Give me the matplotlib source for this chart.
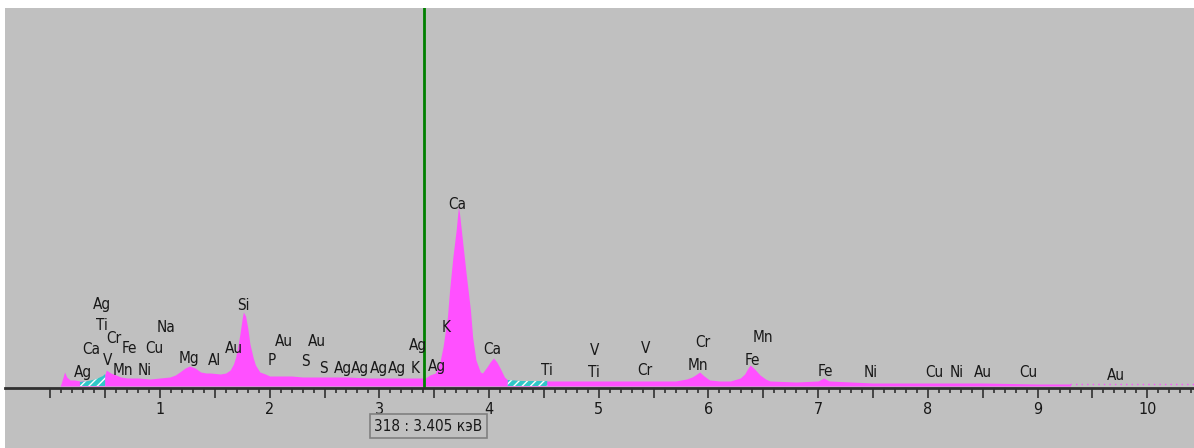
import numpy as np
import matplotlib
matplotlib.use("Agg")
import matplotlib.pyplot as plt

plt.rcParams['font.family'] = ['Liberation Sans Narrow', 'DejaVu Sans']
plt.rcParams['font.stretch'] = 'condensed'

# spectrum (keV, counts)
energy = [0.09, 0.10, 0.13, 0.15, 0.18, 0.22, 0.27, 0.35, 0.42, 0.48, 0.50, 0.51,
          0.55, 0.60, 0.64, 0.70, 0.80, 0.91, 1.00, 1.09, 1.14, 1.18, 1.23, 1.27,
          1.32, 1.37, 1.42, 1.46, 1.55, 1.60, 1.64, 1.67, 1.69, 1.71, 1.73, 1.75,
          1.76, 1.78, 1.80, 1.82, 1.85, 1.87, 1.91, 1.96, 2.00, 2.10, 2.20, 2.30,
          2.50, 2.70, 2.90, 3.10, 3.30, 3.42, 3.46, 3.51, 3.55, 3.58, 3.62, 3.64,
          3.67, 3.70, 3.72, 3.73, 3.76, 3.79, 3.83, 3.85, 3.88, 3.92, 3.94, 3.98,
          4.01, 4.04, 4.07, 4.10, 4.14, 4.17, 4.30, 4.45, 4.53, 4.60, 4.80, 5.00,
          5.20, 5.50, 5.70, 5.80, 5.85, 5.88, 5.92, 5.96, 6.01, 6.10, 6.20, 6.29,
          6.33, 6.35, 6.38, 6.40, 6.42, 6.47, 6.52, 6.56, 6.80, 7.00, 7.05, 7.10,
          7.30, 7.50, 8.00, 8.50, 9.00, 9.30]
counts = [0, 15, 70, 45, 30, 30, 25, 25, 35, 50, 60, 80,
          65, 55, 45, 40, 40, 35, 40, 45, 55, 70, 90, 100,
          90, 70, 65, 65, 60, 65, 80, 110, 145, 200, 265, 340,
          370, 350, 290, 210, 140, 105, 70, 60, 50, 50, 50, 45,
          45, 45, 40, 40, 40, 40, 55, 65, 115, 195, 345, 480,
          645, 780, 895, 865, 715, 565, 380, 245, 130, 70, 65, 95,
          120, 140, 120, 90, 45, 30, 25, 25, 25, 25, 25, 25,
          25, 25, 25, 35, 45, 55, 70, 50, 30, 25, 25, 40,
          60, 80, 105, 95, 85, 55, 35, 25, 20, 25, 40, 25,
          20, 15, 15, 15, 10, 10]

# hatched regions
roi1_energy = [0.27, 0.35, 0.42, 0.48, 0.50]
roi1_counts = [20, 25, 35, 50, 60]
roi2_energy = [4.17, 4.30, 4.45, 4.53]
roi2_counts = [30, 25, 25, 25]

label_text = ['Ag', 'Ti', 'Cr', 'Fe', 'Ca', 'Cu', 'Na', 'V', 'Mn', 'Ni', 'Ag',
              'Mg', 'Al', 'Au', 'Si', 'P', 'Au', 'S', 'Au', 'S', 'Ag', 'Ag',
              'Ag', 'Ag', 'K', 'Ag', 'Ag', 'K', 'Ca', 'Ca', 'Ti', 'V', 'Ti',
              'V', 'Cr', 'Cr', 'Mn', 'Mn', 'Fe', 'Fe', 'Ni', 'Cu', 'Ni', 'Au',
              'Cu', 'Au']
label_kev = [0.471, 0.471, 0.581, 0.717, 0.371, 0.945, 1.055, 0.526, 0.663, 0.863, 0.298,
             1.264, 1.501, 1.675, 1.757, 2.021, 2.130, 2.322, 2.431, 2.486, 2.668, 2.823,
             2.996, 3.160, 3.324, 3.352, 3.525, 3.607, 3.707, 4.026, 4.528, 4.966, 4.956,
             5.431, 5.422, 5.950, 5.904, 6.497, 6.404, 7.062, 7.482, 8.056, 8.266, 8.503,
             8.913, 9.715]
label_cnt = [405, 300, 240, 190, 185, 190, 295, 130, 80, 80, 70,
             140, 130, 190, 405, 130, 225, 125, 225, 90, 90, 90,
             90, 90, 90, 205, 100, 295, 910, 185, 80, 180, 70,
             190, 80, 220, 105, 245, 130, 75, 70, 70, 70, 70,
             70, 55]

cursor_kev = 3.405
cursor_chan = 318

fig = plt.figure(figsize=(11.94, 4.48), dpi=100)
ax = fig.add_axes([5 / 1194, 0, 1189 / 1194, 440 / 448])
ax.set_facecolor('#C0C0C0')
ax.set_xlim(-0.413, 10.426)
ax.set_ylim(-310, 1890)

magenta = '#FF50FF'
ax.fill_between(energy, 0, counts, color=magenta, linewidth=0)
ax.plot([9.3, 10.43], [10, 10], color=magenta, lw=1, ls=(0, (1, 3)))
for e, c in [(roi1_energy, roi1_counts), (roi2_energy, roi2_counts)]:
    ax.fill_between(e, 0, c, facecolor='#30C8C8', edgecolor='white',
                    hatch='////', linewidth=0)

for t, x, y in zip(label_text, label_kev, label_cnt):
    ax.text(x, y, t, ha='center', va='center', fontsize=11, color='#181818')

ax.plot([cursor_kev, cursor_kev], [0, 1890], color='#008000', lw=2)

# axis
for s in ['top', 'right', 'left']:
    ax.spines[s].set_visible(False)
ax.spines['bottom'].set_position(('data', -10))
ax.spines['bottom'].set_linewidth(2)
ax.spines['bottom'].set_color('#303030')
ax.set_yticks([])
ax.set_xticks(np.arange(0, 10.5, 0.5))
ax.set_xticklabels([str(int(v)) if v == int(v) and v > 0 else '' for v in np.arange(0, 10.5, 0.5)])
ax.set_xticks(np.arange(0.1, 10.45, 0.1), minor=True)
ax.tick_params(axis='x', which='major', length=7, width=1.2, color='#303030',
               labelsize=11.5, pad=3, labelcolor='#181818')
ax.tick_params(axis='x', which='minor', length=3.5, width=1.2, color='#303030')

ax.text(cursor_kev + 0.04, -200, f'{cursor_chan} : {cursor_kev:.3f} кэВ',
        ha='center', va='center', fontsize=11, color='#181818',
        bbox=dict(boxstyle='square,pad=0.3', facecolor='#C0C0C0',
                  edgecolor='#808080', linewidth=1.2))

fig.savefig('out.png', dpi=100)
